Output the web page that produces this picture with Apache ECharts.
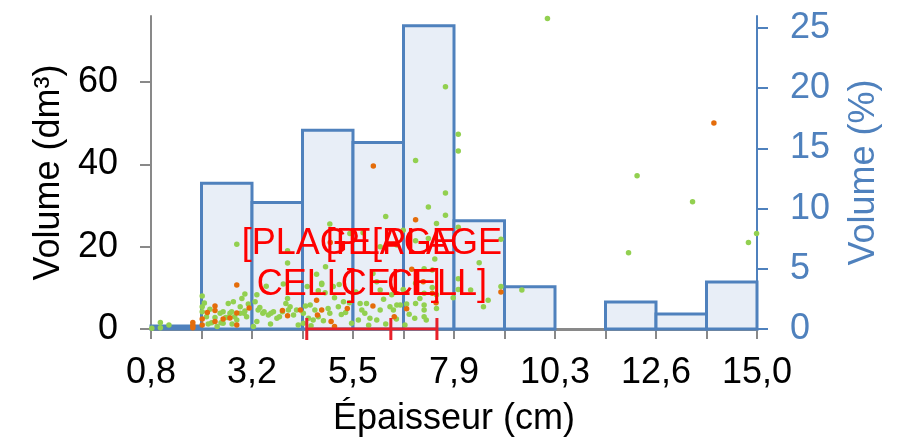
<!DOCTYPE html>
<html>
<head>
<meta charset="utf-8">
<script src="https://cdn.jsdelivr.net/npm/echarts@6/dist/echarts.min.js"></script>
<style>
  html, body { margin: 0; padding: 0; background: #fff; }
  #chart { width: 897px; height: 446px; }
</style>
</head>
<body>
<div id="chart"></div>
<script>
// axe des x : 12 classes, étiquettes une classe sur deux
const xTickLabels = ['0,8', '3,2', '5,5', '7,9', '10,3', '12,6', '15,0']
const binShares = [0.25, 12.1, 10.5, 16.5, 15.5, 25.2, 9.0, 3.5, 0, 2.25, 1.25, 3.9]

// nuage de points [épaisseur cm, volume dm3]
const greenPoints = [
  [0.82, 0.2], [1.02, 1.6], [1.02, 0.3], [1.22, 1.0],
  [2.0, 8.0], [2.0, 5.4], [2.0, 4.2], [2.1, 3.0], [2.18, 4.8], [2.22, 1.5], [2.3, 2.8], [2.42, 3.8],
  [2.49, 1.4], [2.44, 1.5], [2.61, 6.2], [2.59, 2.8], [2.69, 4.2], [2.73, 6.6], [2.76, 3.0], [2.81, 2.2],
  [2.89, 3.8], [2.93, 7.4], [3.0, 8.5], [3.0, 4.4], [3.04, 3.0], [3.08, 6.1], [2.89, 5.4], [2.49, 4.2],
  [2.65, 3.8], [2.98, 3.8], [2.14, 1.2], [2.55, 2.8], [2.81, 20.6], [2.05, 6.3], [2.35, 0.6], [2.7, 1.2],
  [3.28, 8.3], [3.24, 6.6], [3.31, 4.6], [3.28, 1.8], [3.42, 3.8], [3.45, 4.2], [3.55, 3.4], [3.61, 3.8],
  [3.67, 4.2], [3.75, 2.6], [3.81, 3.0], [3.88, 4.2], [3.96, 6.2], [4.02, 4.6], [4.06, 5.4], [4.14, 3.4],
  [4.21, 4.6], [4.0, 7.4], [3.5, 10.4], [4.0, 19.0], [4.0, 16.0], [3.9, 10.9], [3.2, 0.6], [3.6, 1.2],
  [4.25, 1.0], [3.35, 5.2],
  [4.37, 3.8], [4.46, 10.3], [4.72, 9.3], [4.68, 13.3], [4.8, 11.1], [4.89, 15.1], [4.99, 25.5], [4.88, 8.8],
  [4.53, 5.8], [4.64, 4.6], [4.95, 5.0], [4.99, 3.8], [4.49, 2.6], [4.6, 2.2], [4.72, 3.0], [5.07, 10.3],
  [5.31, 6.6], [5.19, 5.4], [5.5, 1.4], [5.26, 3.5], [5.36, 4.0], [4.37, 1.4], [4.84, 2.0], [5.46, 23.2],
  [4.8, 10.8], [5.21, 10.8], [4.42, 5.6], [5.1, 7.6], [4.55, 0.8], [5.45, 6.4],
  [5.77, 23.4], [5.74, 4.6], [5.81, 3.8], [5.93, 2.6], [6.09, 2.2], [6.17, 4.6], [6.4, 5.4], [6.48, 4.6],
  [6.56, 5.8], [6.64, 5.8], [6.17, 20.0], [6.56, 20.4], [6.09, 11.5], [6.17, 9.5], [6.44, 8.3], [5.85, 6.2],
  [5.66, 2.2], [5.7, 6.2], [6.3, 27.3], [5.6, 9.0], [6.0, 13.5], [6.3, 1.2], [5.9, 0.9], [6.55, 2.4], [6.25, 7.2],
  [6.71, 24.0], [7.0, 40.9], [7.3, 29.6], [7.3, 22.0], [7.0, 21.4], [7.49, 25.6], [7.7, 58.8], [7.7, 33.0],
  [7.7, 27.6], [7.2, 14.6], [7.39, 14.3], [7.0, 11.1], [6.71, 9.6], [7.2, 8.7], [7.49, 8.3], [7.2, 5.8],
  [7.49, 5.0], [7.0, 6.2], [7.2, 4.6], [7.2, 3.0], [6.79, 6.1], [7.39, 10.1], [7.1, 7.4], [6.98, 2.6],
  [7.25, 2.2], [6.85, 3.6], [7.45, 17.0], [6.75, 1.0],
  [8.0, 47.3], [8.0, 43.2], [8.0, 24.7], [8.0, 12.2], [8.0, 9.6], [8.29, 9.5], [8.49, 16.1], [8.59, 5.4],
  [8.7, 7.0], [9.0, 10.3], [9.0, 21.8], [7.88, 7.6],
  [9.49, 9.5], [10.09, 75.4], [11.99, 18.5], [12.19, 37.2], [13.49, 30.9], [14.8, 21.0], [14.99, 23.2]
]
const orangePoints = [
  [1.78, 1.6], [1.78, 0.9], [1.78, 0.3], [2.0, 2.4], [2.0, 1.0], [2.12, 4.0], [2.3, 5.6], [2.3, 4.5],
  [2.3, 1.8], [2.49, 2.4], [2.65, 2.7], [2.81, 3.9], [2.81, 1.0], [2.81, 10.7], [3.1, 5.1], [3.88, 4.5],
  [4.0, 3.2], [4.3, 4.6], [4.68, 7.0], [4.8, 4.6], [4.7, 3.4], [5.02, 1.8], [5.1, 0.6], [5.4, 5.0],
  [5.0, 21.0], [6.01, 39.6], [6.0, 5.6], [6.5, 3.0], [6.79, 4.9], [7.0, 26.5], [6.91, 14.5], [7.18, 11.5],
  [7.39, 8.7], [7.48, 6.4], [9.0, 9.0], [13.99, 50.0]
]

// plage : min, médiane, max
const rangeMarks = [4.45, 6.42, 7.5]
const rangeLabel = '[PLAGE\nCELL]'

const font = "'Liberation Sans', Arial, sans-serif"
const gray = '#898989'
const blue = '#4f81bd'

const chart = echarts.init(document.getElementById('chart'))

const binTicks = binShares.map((v, i) => i).concat(binShares.length)

const option = {
  backgroundColor: '#fff',
  animation: false,
  grid: { left: 151, right: 140, top: 16, bottom: 117, outerBoundsMode: 'none' },
  xAxis: [
    {
      type: 'value',
      min: 0,
      max: binShares.length,
      name: 'Épaisseur (cm)',
      nameLocation: 'middle',
      nameGap: 72,
      nameTextStyle: { fontSize: 36, color: '#000', fontFamily: font },
      axisLine: { lineStyle: { color: gray, width: 3 } },
      axisTick: { length: 10, lineStyle: { color: gray, width: 2 }, customValues: binTicks },
      axisLabel: {
        fontSize: 36,
        color: '#000',
        fontFamily: font,
        margin: 26,
        customValues: binTicks.filter(v => v % 2 === 0),
        formatter: v => xTickLabels[Math.round(v / 2)]
      },
      splitLine: { show: false }
    },
    {
      type: 'value',
      min: 0.8,
      max: 15,
      show: false
    }
  ],
  yAxis: [
    {
      type: 'value',
      min: 0,
      max: 76,
      name: 'Volume (dm³)',
      nameLocation: 'middle',
      nameRotate: 90,
      nameGap: 84,
      nameTextStyle: { fontSize: 36, color: '#000', fontFamily: font },
      axisLine: { show: true, lineStyle: { color: gray, width: 2 } },
      axisTick: { show: true, length: 11, lineStyle: { color: gray, width: 2 }, customValues: [0, 20, 40, 60] },
      axisLabel: { fontSize: 36, color: '#000', fontFamily: font, margin: 33, customValues: [0, 20, 40, 60] },
      splitLine: { show: false }
    },
    {
      type: 'value',
      min: 0,
      max: 26,
      position: 'right',
      name: 'Volume (%)',
      nameLocation: 'middle',
      nameRotate: 90,
      nameGap: 89,
      nameTextStyle: { fontSize: 36, color: blue, fontFamily: font },
      axisLine: { show: true, lineStyle: { color: blue, width: 2 } },
      axisTick: { show: true, length: 11, lineStyle: { color: blue, width: 2 }, customValues: [0, 5, 10, 15, 20, 25] },
      axisLabel: { fontSize: 36, color: blue, fontFamily: font, margin: 33, customValues: [0, 5, 10, 15, 20, 25] },
      splitLine: { show: false }
    }
  ],
  series: [
    {
      name: 'histogramme',
      type: 'custom',
      xAxisIndex: 0,
      yAxisIndex: 1,
      z: 1,
      data: binShares.map((v, i) => [i, v]),
      renderItem: (params, api) => {
        const i = api.value(0)
        const v = api.value(1)
        if (!v) return null
        const p0 = api.coord([i, 0])
        const p1 = api.coord([i + 1, v])
        return {
          type: 'rect',
          shape: { x: p0[0], y: p1[1], width: p1[0] - p0[0], height: p0[1] - p1[1] },
          style: { fill: '#e8eef7', stroke: blue, lineWidth: 3 }
        }
      }
    },
    {
      name: 'points',
      type: 'scatter',
      xAxisIndex: 1,
      yAxisIndex: 0,
      symbolSize: 5.5,
      z: 3,
      itemStyle: { color: '#92d050', opacity: 1 },
      data: greenPoints
    },
    {
      name: 'points2',
      type: 'scatter',
      xAxisIndex: 1,
      yAxisIndex: 0,
      symbolSize: 5.5,
      z: 4,
      itemStyle: { color: '#e46c0a', opacity: 1 },
      data: orangePoints
    },
    {
      name: 'plage',
      type: 'line',
      xAxisIndex: 1,
      yAxisIndex: 0,
      z: 6,
      data: rangeMarks.map(x => [x, 0]),
      symbol: 'rect',
      symbolSize: [3, 22],
      showAllSymbol: true,
      lineStyle: { color: '#e8202a', width: 3 },
      itemStyle: { color: '#e8202a' },
      label: {
        show: true,
        position: 'top',
        distance: 12,
        formatter: rangeLabel,
        color: '#ff0000',
        fontSize: 36,
        lineHeight: 41,
        fontFamily: font,
        align: 'center'
      },
      labelLayout: { hideOverlap: false }
    }
  ]
}

chart.setOption(option)
</script>
</body>
</html>
